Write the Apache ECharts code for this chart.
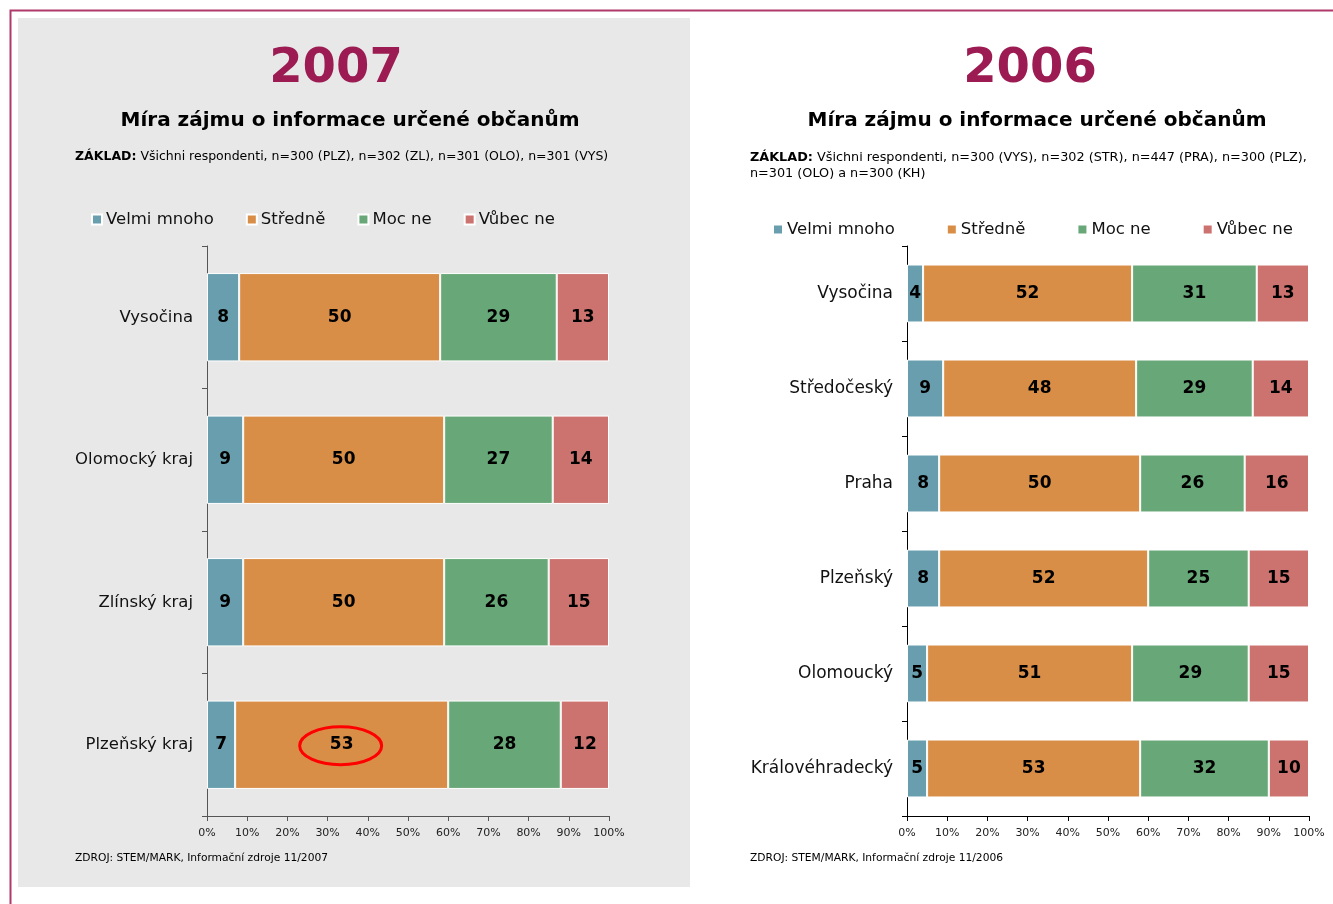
<!DOCTYPE html>
<html lang="cs">
<head>
<meta charset="UTF-8">
<title>Míra zájmu o informace určené občanům</title>
<script src="https://cdn.jsdelivr.net/npm/echarts@6/dist/echarts.min.js"></script>
<style>
    html, body { margin: 0; padding: 0; background: #fff; }
    #container { width: 1333px; height: 904px; }
</style>
</head>
<body>
<div id="container"></div>
<script type="text/javascript">
    // legenda / kategorie odpovědí
    var answers = ['Velmi mnoho', 'Středně', 'Moc ne', 'Vůbec ne'];
    var colors = ['#689eae', '#d98e48', '#68a777', '#cc7370'];

    // 2007
    var regions2007 = ['Vysočina', 'Olomocký kraj', 'Zlínský kraj', 'Plzeňský kraj'];
    var velmi2007 = [8, 9, 9, 7];
    var stredne2007 = [50, 50, 50, 53];
    var mocne2007 = [29, 27, 26, 28];
    var vubec2007 = [13, 14, 15, 12];

    // 2006
    var regions2006 = ['Vysočina', 'Středočeský', 'Praha', 'Plzeňský', 'Olomoucký', 'Královéhradecký'];
    var velmi2006 = [4, 9, 8, 8, 5, 5];
    var stredne2006 = [52, 48, 50, 52, 51, 53];
    var mocne2006 = [31, 29, 26, 25, 29, 32];
    var vubec2006 = [13, 14, 16, 15, 15, 10];

    var xTicks = [0, 10, 20, 30, 40, 50, 60, 70, 80, 90, 100];

    var FONT = '"DejaVu Sans", Verdana, sans-serif';

    var dom = document.getElementById('container');
    var myChart = echarts.init(dom, null, { renderer: 'canvas' });

    function toPercent(parts) {
        // 100% skládaný pruh
        return parts.map(function (arr, k) {
            return arr.map(function (v, i) {
                var sum = 0;
                parts.forEach(function (p) { sum += p[i]; });
                return { value: v / sum * 100, raw: v };
            });
        });
    }

    function makeSeries(parts, gridIndex) {
        var pct = toPercent(parts);
        return pct.map(function (data, k) {
            return {
                name: answers[k],
                type: 'bar',
                stack: 's' + gridIndex,
                xAxisIndex: gridIndex,
                yAxisIndex: gridIndex,
                barWidth: gridIndex === 0 ? '62%' : '61%',
                itemStyle: { color: colors[k], borderColor: '#fff', borderWidth: 1 },
                label: {
                    show: true,
                    position: 'inside',
                    color: '#000',
                    fontWeight: 'bold',
                    fontSize: 17,
                    fontFamily: FONT,
                    formatter: function (p) { return p.data.raw; }
                },
                data: data
            };
        });
    }

    function xAxis(gridIndex, lineColor) {
        return {
            type: 'value',
            gridIndex: gridIndex,
            min: 0, max: 100, interval: 10,
            splitLine: { show: false },
            axisLine: { show: true, lineStyle: { color: lineColor } },
            axisTick: { show: true, length: 5, lineStyle: { color: lineColor } },
            axisLabel: {
                formatter: '{value}%', fontSize: 11, color: '#222', fontFamily: FONT, margin: 12,
                customValues: xTicks
            }
        };
    }

    function yAxis(gridIndex, cats, lineColor, fs) {
        return {
            type: 'category',
            gridIndex: gridIndex,
            data: cats,
            inverse: true,
            axisLine: { show: true, lineStyle: { color: lineColor } },
            axisTick: { show: true, length: 5, inside: false, lineStyle: { color: lineColor } },
            axisLabel: { fontSize: fs, color: '#111', fontFamily: FONT, margin: 14 }
        };
    }

    function legend(left, top, gap) {
        return {
            data: answers,
            left: left,
            top: top,
            itemWidth: 10,
            itemHeight: 10,
            itemGap: gap,
            icon: 'rect',
            selectedMode: false,
            textStyle: { fontSize: 16.5, color: '#111', fontFamily: FONT, padding: [0, 0, 0, -1] }
        };
    }

    var purple = '#9b1b52';

    var option = {
        animation: false,
        textStyle: { fontFamily: FONT },
        legend: [legend(86, 206, 32), legend(767, 216, 51)],
        grid: [
            { left: 207, right: 724, top: 246, bottom: 88 },
            { left: 907, right: 24, top: 246, bottom: 88 }
        ],
        xAxis: [xAxis(0, '#555'), xAxis(1, '#000')],
        yAxis: [yAxis(0, regions2007, '#555', 16.5), yAxis(1, regions2006, '#000', 17)],
        series: makeSeries([velmi2007, stredne2007, mocne2007, vubec2007], 0)
            .concat(makeSeries([velmi2006, stredne2006, mocne2006, vubec2006], 1)),
        graphic: [
            // rámeček stránky a šedý panel
            { type: 'rect', z: -10, silent: true, shape: { x: 10.5, y: 10.5, width: 1340, height: 900 },
              style: { fill: '#fff', stroke: '#b0396b', lineWidth: 2 } },
            { type: 'rect', z: -9, silent: true, shape: { x: 18, y: 18, width: 672, height: 869 },
              style: { fill: '#e8e8e8' } },
            // nadpisy 2007
            { type: 'text', style: { text: '2007', x: 336, y: 70, align: 'center', verticalAlign: 'middle',
              font: 'bold 48px ' + FONT, fill: purple } },
            { type: 'text', style: { text: 'Míra zájmu o informace určené občanům', x: 350, y: 121,
              align: 'center', verticalAlign: 'middle', font: 'bold 20px ' + FONT, fill: '#000' } },
            { type: 'text', style: { x: 75, y: 157, verticalAlign: 'middle',
              text: '{b|ZÁKLAD:} Všichni respondenti, n=300 (PLZ), n=302 (ZL), n=301 (OLO), n=301 (VYS)',
              font: '12.5px ' + FONT, fill: '#000',
              rich: { b: { fontWeight: 'bold', fontSize: 12.5, fontFamily: FONT } } } },
            { type: 'text', style: { x: 75, y: 858, verticalAlign: 'middle',
              text: 'ZDROJ: STEM/MARK, Informační zdroje 11/2007', font: '10.7px ' + FONT, fill: '#000' } },
            // nadpisy 2006
            { type: 'text', style: { text: '2006', x: 1030, y: 70, align: 'center', verticalAlign: 'middle',
              font: 'bold 48px ' + FONT, fill: purple } },
            { type: 'text', style: { text: 'Míra zájmu o informace určené občanům', x: 1037, y: 121,
              align: 'center', verticalAlign: 'middle', font: 'bold 20px ' + FONT, fill: '#000' } },
            { type: 'text', style: { x: 750, y: 150, verticalAlign: 'top', lineHeight: 16,
              text: '{b|ZÁKLAD:} Všichni respondenti, n=300 (VYS), n=302 (STR), n=447 (PRA), n=300 (PLZ),\nn=301 (OLO) a n=300 (KH)',
              font: '12.8px ' + FONT, fill: '#000',
              rich: { b: { fontWeight: 'bold', fontSize: 12.8, fontFamily: FONT, lineHeight: 16 } } } },
            { type: 'text', style: { x: 750, y: 858, verticalAlign: 'middle',
              text: 'ZDROJ: STEM/MARK, Informační zdroje 11/2006', font: '10.7px ' + FONT, fill: '#000' } }
        ]
    };
    myChart.setOption(option);

    // červená elipsa kolem hodnoty 53 (Plzeňský kraj, 2007)
    var iP = regions2007.indexOf('Plzeňský kraj');
    var midX = velmi2007[iP] + stredne2007[iP] / 2;
    var pt = myChart.convertToPixel({ xAxisIndex: 0, yAxisIndex: 0 }, [midX, iP]);
    myChart.setOption({
        graphic: option.graphic.concat([
            { type: 'ellipse', z: 100, silent: true,
              shape: { cx: pt[0] - 1, cy: pt[1] + 1, rx: 41, ry: 19 },
              style: { fill: 'none', stroke: '#f00', lineWidth: 3 } }
        ])
    });

    window.addEventListener('resize', myChart.resize);
</script>
</body>
</html>
